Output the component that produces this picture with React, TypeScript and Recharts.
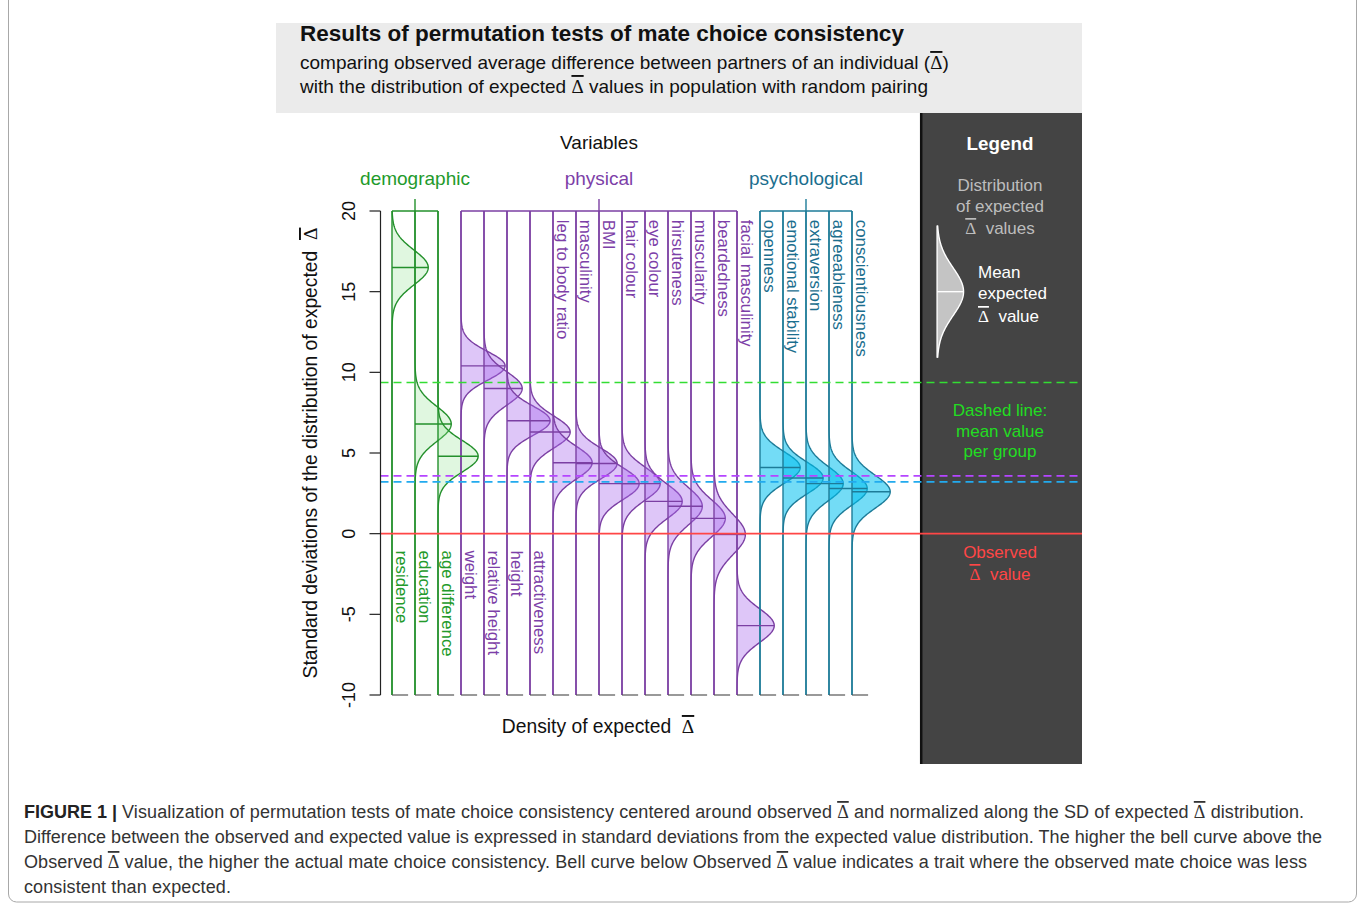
import React from 'react';
import { ComposedChart, Area, XAxis, YAxis, ReferenceLine, ReferenceDot } from 'recharts';

const FONT = '"Liberation Sans", Arial, Helvetica, sans-serif';
const SERIF = '"Liberation Serif", "DejaVu Serif", serif';

// variables, left to right
const VARIABLES = [
  'residence', 'education', 'age difference',
  'weight', 'relative height', 'height', 'attractiveness', 'leg to body ratio', 'masculinity', 'BMI',
  'hair colour', 'eye colour', 'hirsuteness', 'muscularity', 'beardedness', 'facial masculinity',
  'openness', 'emotional stability', 'extraversion', 'agreeableness', 'conscientiousness',
];
const GROUPS = ['demographic', 'physical', 'psychological'];
const GROUP_OF = [0, 0, 0, 1, 1, 1, 1, 1, 1, 1, 1, 1, 1, 1, 1, 1, 2, 2, 2, 2, 2];

// mean expected delta, in SD above the observed value
const MEANS = [16.5, 6.8, 4.8, 10.4, 9.0, 7.0, 6.3, 4.4, 4.35, 3.1, 3.1, 2.0, 1.7, 0.95, -0.05, -5.7, 4.1, 3.45, 3.1, 2.8, 2.6];
// density at the mode of each expected distribution
const PEAKS = [0.37, 0.37, 0.41, 0.45, 0.39, 0.44, 0.41, 0.4, 0.42, 0.41, 0.39, 0.38, 0.35, 0.35, 0.32, 0.38, 0.41, 0.41, 0.38, 0.39, 0.39];

// names written below the observed line instead of at the top
const LABEL_BELOW = ['residence', 'education', 'age difference', 'weight', 'relative height', 'height', 'attractiveness'];

// sample curve shown in the legend panel
const LEGEND_MEAN = 15;
const LEGEND_PEAK = 0.27;
const LEGEND_X = 23.7;

const Y_TICKS = [-10, -5, 0, 5, 10, 15, 20];

const GROUP_STROKE = ['#23902b', '#7b3fa3', '#1d7b98'];
const GROUP_TEXT = ['#239a2b', '#7d3fa8', '#1b6e8e'];
const GROUP_FILL = ['#8fe28f', '#a868ec', '#00bfef'];
const GROUP_FILL_OPACITY = [0.28, 0.38, 0.55];
const GROUP_DASH = ['#33dd33', '#b545ff', '#22aaee'];

const DENSITY_SCALE = 4.26;
const STEP = 0.05;
const GAP = '\u00a0\u00a0';

const normal = (y: number, mean: number, peak: number) => {
  const sd = 0.3989 / peak;
  const z = (y - mean) / sd;
  return { d: peak * Math.exp(-0.5 * z * z), z };
};

const rows: any[] = [];
const legendRows: any[] = [];
for (let j = 0; j <= 600; j++) {
  const y = +(-10 + j * STEP).toFixed(2);
  const row: any = { y };
  MEANS.forEach((m, i) => {
    row[`v${i}`] = [i, i + normal(y, m, PEAKS[i]).d * DENSITY_SCALE];
  });
  rows.push(row);
  const lg = normal(y, LEGEND_MEAN, LEGEND_PEAK);
  if (Math.abs(lg.z) <= 2.8) legendRows.push({ y, legend: [LEGEND_X, LEGEND_X + lg.d * DENSITY_SCALE] });
}

const groupIdx = GROUPS.map((_, g) => VARIABLES.map((_, i) => i).filter((i) => GROUP_OF[i] === g));
const groupMean = groupIdx.map((ids) => ids.reduce((s, i) => s + MEANS[i], 0) / ids.length);

const Delta = () => (
  <tspan fontFamily={SERIF} textDecoration="overline">Δ</tspan>
);

const RotTick = (props: any) => {
  const { x, y, payload } = props;
  return (
    <text x={x} y={y} transform={`rotate(-90 ${x} ${y})`} textAnchor="middle" fontSize={18} fill="#111" fontFamily={FONT}>
      {payload.value}
    </text>
  );
};

function Chart() {
  return (
    <ComposedChart
      width={1360}
      height={903}
      data={rows}
      layout="vertical"
      margin={{ top: 211, right: 278, bottom: 208, left: 320.5 }}
    >
      <XAxis type="number" domain={[-0.5, 30]} hide />
      <YAxis
        type="number"
        dataKey="y"
        domain={[-10, 20]}
        reversed
        ticks={Y_TICKS}
        width={60}
        tickSize={11}
        tickMargin={14.5}
        tick={<RotTick />}
        axisLine={{ stroke: '#222', strokeWidth: 1.2 }}
        tickLine={{ stroke: '#222', strokeWidth: 1.2 }}
      />
      {MEANS.map((m, i) => (
        <Area
          key={`a${i}`}
          dataKey={`v${i}`}
          type="linear"
          stroke={GROUP_STROKE[GROUP_OF[i]]}
          strokeWidth={1.4}
          fill={GROUP_FILL[GROUP_OF[i]]}
          fillOpacity={GROUP_FILL_OPACITY[GROUP_OF[i]]}
          dot={false}
          activeDot={false}
          isAnimationActive={false}
        />
      ))}
      <Area
        data={legendRows}
        dataKey="legend"
        type="linear"
        stroke="#ffffff"
        strokeWidth={1.4}
        fill="#c4c4c4"
        fillOpacity={1}
        dot={false}
        activeDot={false}
        isAnimationActive={false}
      />
      {MEANS.map((m, i) => (
        <ReferenceLine
          key={`m${i}`}
          segment={[{ x: i, y: m }, { x: i + PEAKS[i] * DENSITY_SCALE, y: m }]}
          stroke={GROUP_STROKE[GROUP_OF[i]]}
          strokeWidth={1.4}
        />
      ))}
      <ReferenceLine
        segment={[{ x: LEGEND_X, y: LEGEND_MEAN }, { x: LEGEND_X + LEGEND_PEAK * DENSITY_SCALE, y: LEGEND_MEAN }]}
        stroke="#ffffff"
        strokeWidth={1.4}
      />
      {MEANS.map((m, i) => (
        <ReferenceLine
          key={`b${i}`}
          segment={[{ x: i, y: -10 }, { x: i + 0.7, y: -10 }]}
          stroke="#555"
          strokeWidth={1.2}
        />
      ))}
      {groupIdx.map((ids, g) => {
        const first = ids[0];
        const last = ids[ids.length - 1];
        const mid = ids[Math.floor(ids.length / 2)];
        return (
          <React.Fragment key={`g${g}`}>
            <ReferenceLine
              segment={[{ x: first, y: 20 }, { x: last, y: 20 }]}
              stroke={GROUP_STROKE[g]}
              strokeWidth={1.4}
              ifOverflow="visible"
            />
            <ReferenceLine
              segment={[{ x: mid, y: 20 }, { x: mid, y: 20.74 }]}
              stroke={GROUP_STROKE[g]}
              strokeWidth={1.4}
              ifOverflow="visible"
            />
            <ReferenceDot
              x={mid}
              y={21.62}
              r={0}
              ifOverflow="visible"
              shape={(p: any) => (
                <text x={p.cx} y={p.cy} textAnchor="middle" fontSize={19} fill={GROUP_TEXT[g]} fontFamily={FONT}>
                  {GROUPS[g]}
                </text>
              )}
            />
          </React.Fragment>
        );
      })}
      {VARIABLES.map((name, i) => {
        const below = LABEL_BELOW.includes(name);
        return (
          <ReferenceDot
            key={`l${i}`}
            x={i}
            y={below ? -1.05 : 19.45}
            r={0}
            ifOverflow="visible"
            shape={(p: any) => (
              <text
                x={p.cx + 3.5}
                y={p.cy}
                transform={`rotate(90 ${p.cx + 3.5} ${p.cy})`}
                fontSize={16.8}
                fill={GROUP_TEXT[GROUP_OF[i]]}
                fontFamily={FONT}
              >
                {name}
              </text>
            )}
          />
        );
      })}
      {groupMean.map((v, g) => (
        <ReferenceLine key={`d${g}`} y={v} stroke={GROUP_DASH[g]} strokeWidth={1.6} strokeDasharray="8 5" />
      ))}
      <ReferenceLine y={0} stroke="#ff4646" strokeWidth={1.6} />
    </ComposedChart>
  );
}

const CAPTION = [
  'Visualization of permutation tests of mate choice consistency centered around observed |D| and normalized along the SD of expected |D| distribution.',
  'Difference between the observed and expected value is expressed in standard deviations from the expected value distribution. The higher the bell curve above the',
  'Observed |D| value, the higher the actual mate choice consistency. Bell curve below Observed |D| value indicates a trait where the observed mate choice was less',
  'consistent than expected.',
];
const CAPTION_WIDTH = [1182, 1298, 1283, 207];

const withDelta = (line: string) =>
  line.split('|D|').flatMap((part, k) =>
    k === 0
      ? [<tspan key={`p${k}`}>{part}</tspan>]
      : [
          <tspan key={`d${k}`} fontFamily={SERIF} textDecoration="overline">Δ</tspan>,
          <tspan key={`p${k}`}>{part}</tspan>,
        ]
  );

function Backdrop() {
  return (
    <svg width={1360} height={903} style={{ position: 'absolute', left: 0, top: 0 }} fontFamily={FONT}>
      <rect x={8.5} y={-12} width={1348} height={914} rx={8} fill="#fff" stroke="#a8a8a8" />
      <rect x={276} y={23} width={806} height={90} fill="#ebebeb" />
      <text x={300} y={41} fontSize={22.5} fontWeight="bold" fill="#111">
        Results of permutation tests of mate choice consistency
      </text>
      <text x={300} y={69} fontSize={19} fill="#111">
        comparing observed average difference between partners of an individual (<Delta />)
      </text>
      <text x={300} y={93} fontSize={19} fill="#111">
        with the distribution of expected <Delta /> values in population with random pairing
      </text>
      <text x={599} y={149} fontSize={19} textAnchor="middle" fill="#111">Variables</text>
      <text
        x={317}
        y={453}
        transform="rotate(-90 317 453)"
        textAnchor="middle"
        fontSize={19.3}
        fill="#111"
      >
        Standard deviations of the distribution of expected{GAP}<Delta />
      </text>
      <text x={598} y={733} textAnchor="middle" fontSize={19.3} fill="#111">
        Density of expected{GAP}<Delta />
      </text>

      <rect x={920} y={113} width={162} height={651} fill="#444444" />
      <line x1={921.2} y1={113} x2={921.2} y2={764} stroke="#111" strokeWidth={2.5} />
      <text x={1000} y={150} textAnchor="middle" fontSize={18.8} fontWeight="bold" fill="#fff">Legend</text>
      <g fontSize={17} fill="#bdbdbd" textAnchor="middle">
        <text x={1000} y={191}>Distribution</text>
        <text x={1000} y={212}>of expected</text>
        <text x={1000} y={234}><Delta />{GAP}values</text>
      </g>
      <g fontSize={17} fill="#ffffff">
        <text x={978} y={278}>Mean</text>
        <text x={978} y={299}>expected</text>
        <text x={978} y={322}><Delta />{GAP}value</text>
      </g>
      <g fontSize={17} fill="#22dd22" textAnchor="middle">
        <text x={1000} y={416}>Dashed line:</text>
        <text x={1000} y={437}>mean value</text>
        <text x={1000} y={457}>per group</text>
      </g>
      <g fontSize={17} fill="#ff4646" textAnchor="middle">
        <text x={1000} y={558}>Observed</text>
        <text x={1000} y={580}><Delta />{GAP}value</text>
      </g>

      <g fontSize={18} fill="#333">
        <text x={24} y={818}>
          <tspan fontWeight="bold" fill="#222">FIGURE 1 | </tspan>
          <tspan textLength={CAPTION_WIDTH[0]} lengthAdjust="spacing">{withDelta(CAPTION[0])}</tspan>
        </text>
        {CAPTION.slice(1).map((line, k) => (
          <text key={k} x={24} y={843 + 25 * k} textLength={CAPTION_WIDTH[k + 1]} lengthAdjust="spacing">
            {withDelta(line)}
          </text>
        ))}
      </g>
    </svg>
  );
}

export default function App() {
  return (
    <div style={{ position: 'absolute', left: 0, top: 0, width: 1360, height: 903, background: '#fff', overflow: 'hidden' }}>
      <Backdrop />
      <div style={{ position: 'absolute', left: 0, top: 0 }}>
        <Chart />
      </div>
    </div>
  );
}
